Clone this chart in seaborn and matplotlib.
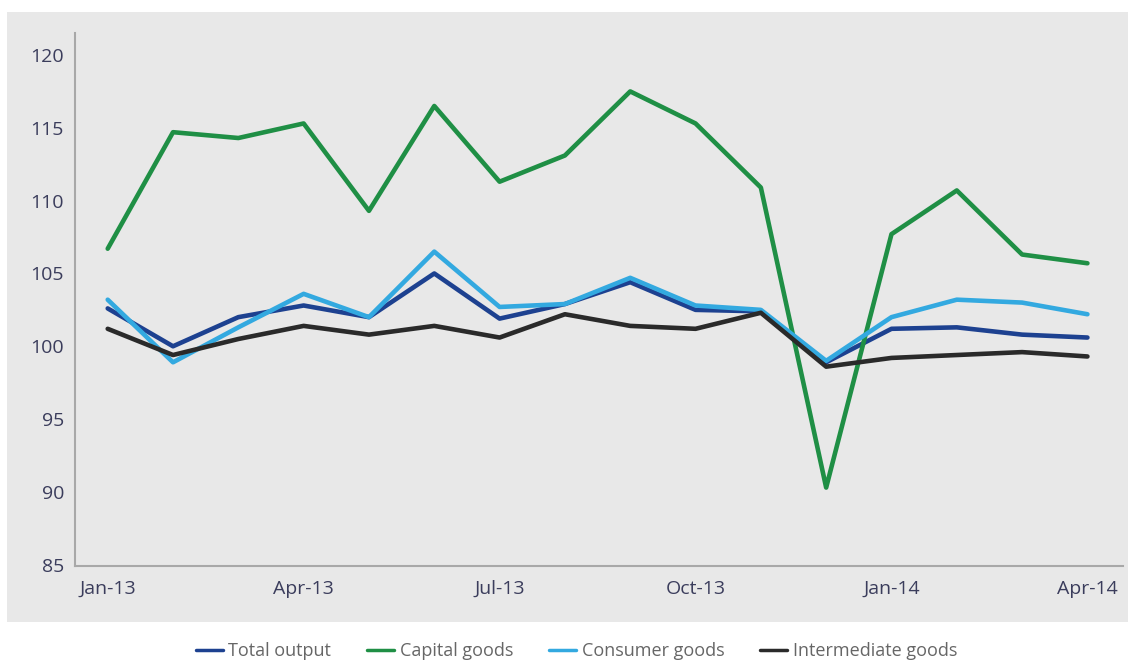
import numpy as np
import pandas as pd
import matplotlib
matplotlib.use("Agg")
import matplotlib.pyplot as plt
from matplotlib.patches import Rectangle
import seaborn as sns

months = ["Jan-13", "Feb-13", "Mar-13", "Apr-13", "May-13", "Jun-13", "Jul-13", "Aug-13",
          "Sep-13", "Oct-13", "Nov-13", "Dec-13", "Jan-14", "Feb-14", "Mar-14", "Apr-14"]
total_output = [102.6, 100.0, 102.0, 102.8, 102.0, 105.0, 101.9, 102.9,
                104.4, 102.5, 102.4, 98.9, 101.2, 101.3, 100.8, 100.6]
capital_goods = [106.7, 114.7, 114.3, 115.3, 109.3, 116.5, 111.3, 113.1,
                 117.5, 115.3, 110.9, 90.3, 107.7, 110.7, 106.3, 105.7]
consumer_goods = [103.2, 98.9, 101.3, 103.6, 102.0, 106.5, 102.7, 102.9,
                  104.7, 102.8, 102.5, 99.0, 102.0, 103.2, 103.0, 102.2]
intermediate_goods = [101.2, 99.4, 100.5, 101.4, 100.8, 101.4, 100.6, 102.2,
                      101.4, 101.2, 102.3, 98.6, 99.2, 99.4, 99.6, 99.3]

series_names = ["Total output", "Capital goods", "Consumer goods", "Intermediate goods"]
series_values = [total_output, capital_goods, consumer_goods, intermediate_goods]
colors = ["#1d4190", "#1f8f45", "#33a9e0", "#2a2a2a"]
tick_labels = ["Jan-13", "Apr-13", "Jul-13", "Oct-13", "Jan-14", "Apr-14"]
y_ticks = [85, 90, 95, 100, 105, 110, 115, 120]

rows = []
for name, vals in zip(series_names, series_values):
    for i, (m, v) in enumerate(zip(months, vals)):
        rows.append({"idx": i, "month": m, "value": v, "series": name})
df = pd.DataFrame(rows)

sns.set_style("white")
plt.rcParams['font.family'] = ['Open Sans', 'DejaVu Sans']

panel = "#e8e8e8"
fig = plt.figure(figsize=(11.37, 6.63), dpi=100)
fig.patches.append(Rectangle((0.006, 0.062), 0.986, 0.920, transform=fig.transFigure,
                             facecolor=panel, edgecolor="none", zorder=-10))
ax = fig.add_axes([0.066, 0.146, 0.922, 0.804])
ax.set_zorder(2)
ax.set_facecolor(panel)

sns.lineplot(data=df, x="idx", y="value", hue="series", hue_order=series_names,
             palette=colors, linewidth=3.3, ax=ax, legend=True)

ax.set_xlim(-0.5, 15.55)
ax.set_ylim(84.9, 121.5)
tick_pos = [months.index(t) for t in tick_labels]
ax.set_xticks(tick_pos)
ax.set_xticklabels(tick_labels)
ax.set_yticks(y_ticks)
ax.set_xlabel("")
ax.set_ylabel("")
ax.tick_params(axis="both", length=0, labelsize=14, colors="#3b3d5c")
ax.tick_params(axis="y", pad=8)
ax.tick_params(axis="x", pad=10)
for s in ["top", "right"]:
    ax.spines[s].set_visible(False)
for s in ["left", "bottom"]:
    ax.spines[s].set_color("#a8a8a8")
    ax.spines[s].set_linewidth(1.5)

handles, labels = ax.get_legend_handles_labels()
ax.get_legend().remove()
leg = fig.legend(handles, labels, loc="center", bbox_to_anchor=(0.507, 0.018),
                 ncol=4, frameon=False, fontsize=13, handlelength=1.5,
                 handletextpad=0.3, columnspacing=2.0)
for line in leg.get_lines():
    line.set_linewidth(2.5)
for t in leg.get_texts():
    t.set_color("#666666")

fig.savefig("out.png", dpi=100)
